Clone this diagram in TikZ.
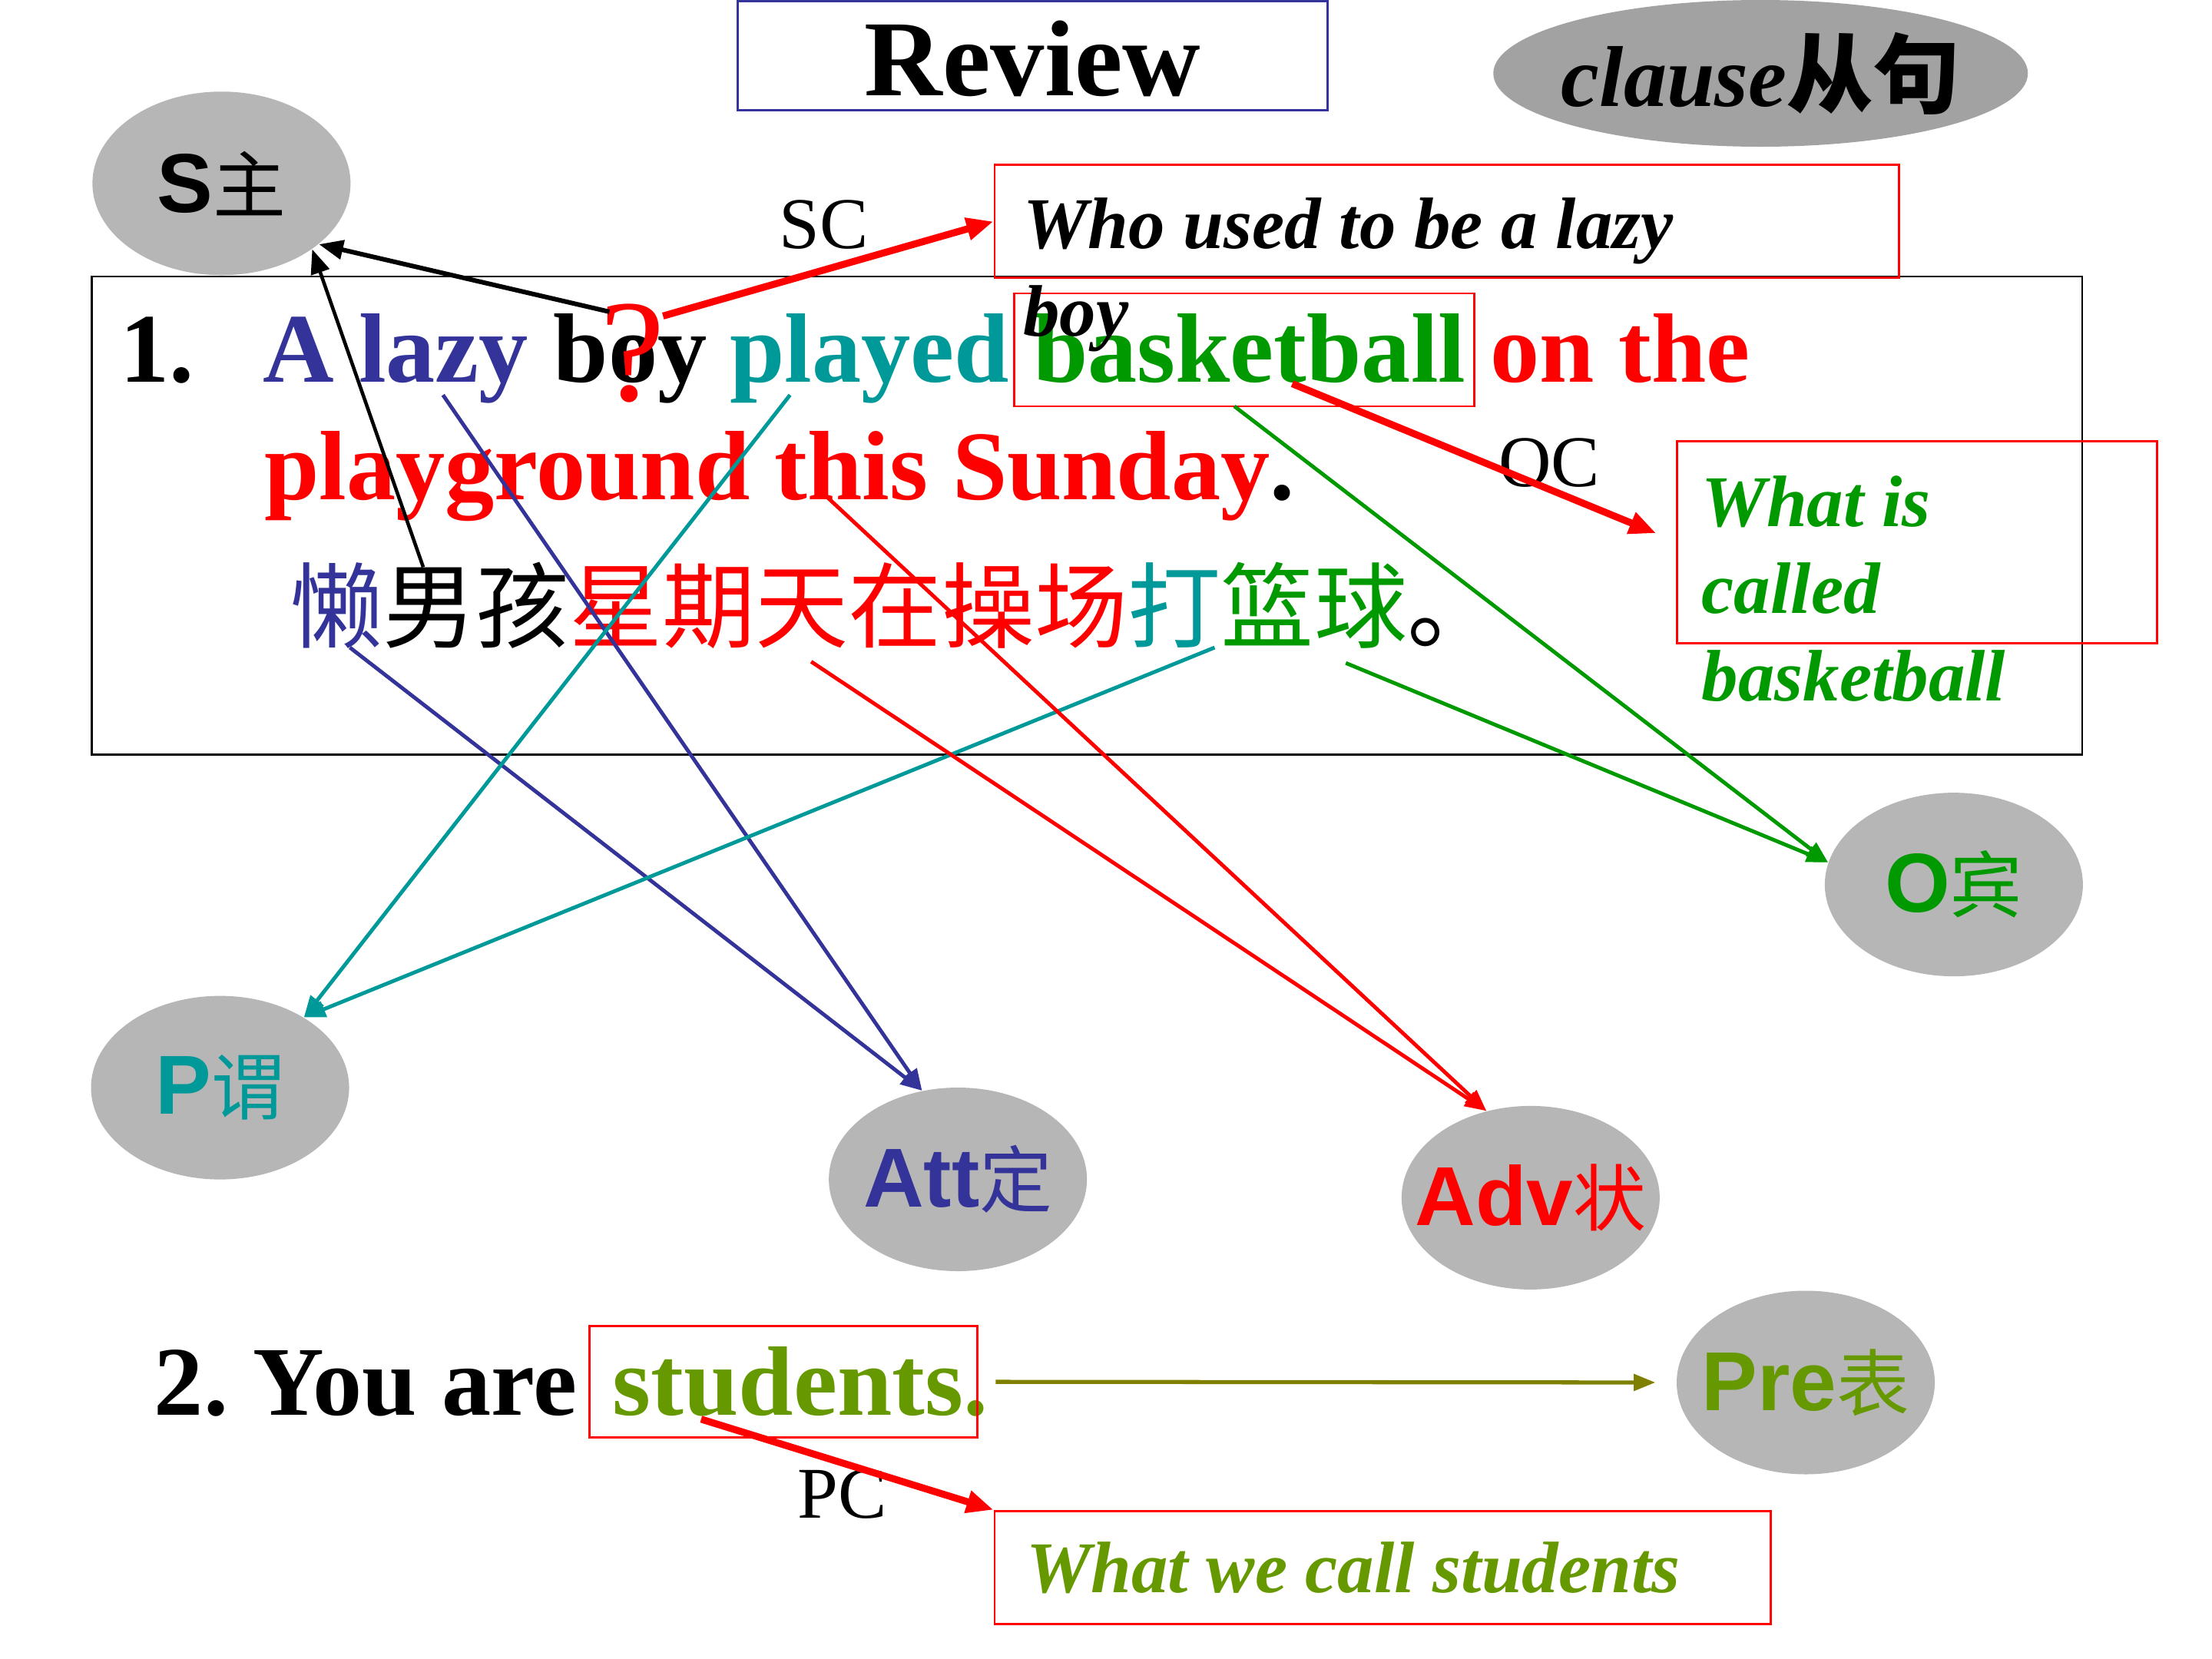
\documentclass[tikz,border=0pt]{standalone}
\usepackage{fontspec}
\setmainfont{Liberation Serif}
\newfontfamily\arialfont{Liberation Sans}
\newfontfamily\cjk{Noto Sans CJK SC}
\usetikzlibrary{arrows.meta}
\usetikzlibrary{shapes.geometric,fit}
\usepackage{xcolor}
\definecolor{lazyblue}{HTML}{333399}
\definecolor{predteal}{HTML}{009999}
\definecolor{objgreen}{HTML}{009900}
\definecolor{preolive}{HTML}{669900}
\definecolor{linkolive}{HTML}{808000}
\definecolor{bubblegray}{HTML}{B6B6B6}
\definecolor{clausegray}{HTML}{A2A2A2}
\newcommand{\hanzi}[1]{{\cjk\mdseries\fontsize{27}{27}\selectfont #1}}
\frenchspacing

\begin{document}
\begin{tikzpicture}[x=0.18367mm,y=-0.18367mm,
	bubble/.style={ellipse,fill=bubblegray,minimum width=33.6mm,minimum height=23.9mm,
		inner sep=0pt,font=\arialfont\fontsize{31}{31}\selectfont\bfseries},
	box/.style={draw,line width=0.8pt,inner sep=0pt},
	word/.style={anchor=base west,inner sep=0pt,font=\fontsize{36.5}{40}\selectfont\bfseries},
	note/.style={anchor=base west,inner sep=0pt,align=left,
		font=\fontsize{27}{32.4}\selectfont\bfseries\itshape},
	tag/.style={anchor=base west,inner sep=0pt,font=\fontsize{27}{30}\selectfont},
	link/.style={line width=1.4pt,-{Triangle[length=8pt,width=6pt]}},
	bigred/.style={red,line width=2.6pt,-{Triangle[length=10pt,width=8pt]}}]
	
	\useasboundingbox (0,0) rectangle (1568,1176);
	
	% --- title and clause bubble ---
	\node[box,draw=lazyblue,fit={(523,1) (941,78)}] (review) {};
	\node[anchor=base,inner sep=0pt,font=\fontsize{40}{40}\selectfont\bfseries] (reviewtxt) at (732,68) {Review};
	\node[ellipse,fill=clausegray,minimum width=69.6mm,minimum height=19.1mm,inner sep=0pt,
		font=\fontsize{32}{32}\selectfont\bfseries\itshape] (clause) at (1248,52)
		{\makebox[0pt]{clause{\cjk 从句}}};
	
	% --- sentence 1 ---
	\node[box,fit={(65,196) (1476,535)}] (mainbox) {};
	\node[word] (num1) at (85,271) {1.};
	\node[word,lazyblue] (alazy) at (186,271) {A lazy};
	\node[word] (boy) at (392,271) {boy};
	\node[word,predteal] (played) at (517,271) {played};
	\node[word,objgreen] (ball) at (732,271) {basketball};
	\node[word,red] (onthe) at (1056,271) {on the};
	\node[box,red,fit={(719,208) (1045,288)}] (ballbox) {};
	\node[word,red] (playground) at (187,354) {playground this Sunday\textcolor{black}{.}};
	\node[anchor=west,inner sep=0pt,font=\cjk\fontsize{34.5}{34.5}\selectfont] (zh) at (205,429)
		{\textcolor{lazyblue}{懒}男孩\textcolor{red}{星期天在操场}\textcolor{predteal}{打}\textcolor{objgreen}{篮球}。};
	\node[anchor=base west,inner sep=0pt,red,font=\fontsize{54}{54}\selectfont] (qmark) at (425,284) {?};
	
	% --- sentence 2 ---
	\node[word] (you) at (109,1003) {2. You are};
	\node[word,preolive] (students) at (434,1003) {students.};
	\node[box,red,fit={(418,940) (693,1019)}] (stubox) {};
	
	% --- complement boxes (text runs out of the frame, as on the slide) ---
	\node[box,red,fit={(705,117) (1346,197)}] (scbox) {};
	\node[note] (sctxt) at (725,238) {Who used to be a lazy\\boy};
	\node[box,red,fit={(1189,313) (1529,456)}] (ocbox) {};
	\node[note,objgreen] (octxt) at (1206,497) {What is\\called\\basketball};
	\node[box,red,fit={(705,1071) (1255,1151)}] (pcbox) {};
	\node[note,preolive] (pctxt) at (727,1129) {What we call students};
	\node[tag] (sc) at (552,176) {SC};
	\node[tag] (oc) at (1062,345) {OC};
	\node[tag] (pc) at (565,1076) {PC};
	
	% --- sentence parts (bubbles) ---
	\node[bubble] (S) at (157,130) {\makebox[0pt]{S\hanzi{主}}};
	\node[bubble,text=objgreen] (O) at (1385,627) {\makebox[0pt]{O\hanzi{宾}}};
	\node[bubble,text=predteal] (P) at (156,771) {\makebox[0pt]{P\hanzi{谓}}};
	\node[bubble,text=lazyblue] (Att) at (679,836) {\makebox[0pt]{Att\hanzi{定}}};
	\node[bubble,text=red] (Adv) at (1085,849) {\makebox[0pt]{Adv\hanzi{状}}};
	\node[bubble,text=preolive] (Pre) at (1280,980) {\makebox[0pt]{Pre\hanzi{表}}};
	
	% feet of the links
	\coordinate (qfoot) at (432,221);
	\coordinate (nanfoot) at (300,402);
	\coordinate (lazyfoot) at (314,280);
	\coordinate (lanfoot) at (248,459);
	\coordinate (playedfoot) at (560,280);
	\coordinate (dafoot) at (861,459);
	\coordinate (groundfoot) at (587,353);
	\coordinate (xingfoot) at (575,469);
	\coordinate (ballfoot) at (875,288);
	\coordinate (lanqiufoot) at (954,470);
	\coordinate (scfoot) at (470,224);
	\coordinate (ocfoot) at (916,272);
	\coordinate (octip) at (1174,378);
	\coordinate (pcfoot) at (497,1006);
	
	% subject (black)
	\draw[line width=1.7pt,-{Triangle[length=9pt,width=7pt]}] (qfoot) -- (S.-32);
	\draw[line width=1.3pt,-{Triangle[length=9pt,width=7pt]}] (nanfoot) -- (S.-36);
	
	% attributive, predicate, adverbial, object
	\draw[link,lazyblue] (lazyfoot) -- (Att.112);
	\draw[link,lazyblue] (lanfoot) -- (Att.112);
	\draw[link,predteal] (playedfoot) -- (P.40);
	\draw[link,predteal] (dafoot) -- (P.40);
	\draw[link,red] (groundfoot) -- (Adv.117);
	\draw[link,red] (xingfoot) -- (Adv.117);
	\draw[link,objgreen] (ballfoot) -- (O.170);
	\draw[link,objgreen] (lanqiufoot) -- (O.170);
	
	% predicative
	\draw[line width=1.5pt,linkolive,-{Triangle[length=8pt,width=6pt]},
		shorten <=2.2mm,shorten >=2.7mm] (stubox.east) -- (Pre.west);
	
	% complements (thick red)
	\draw[bigred] (scfoot) -- (scbox.west);
	\draw[bigred] (ocfoot) -- (octip);
	\draw[bigred] (pcfoot) -- (pcbox.north west);
	
\end{tikzpicture}
\end{document}
